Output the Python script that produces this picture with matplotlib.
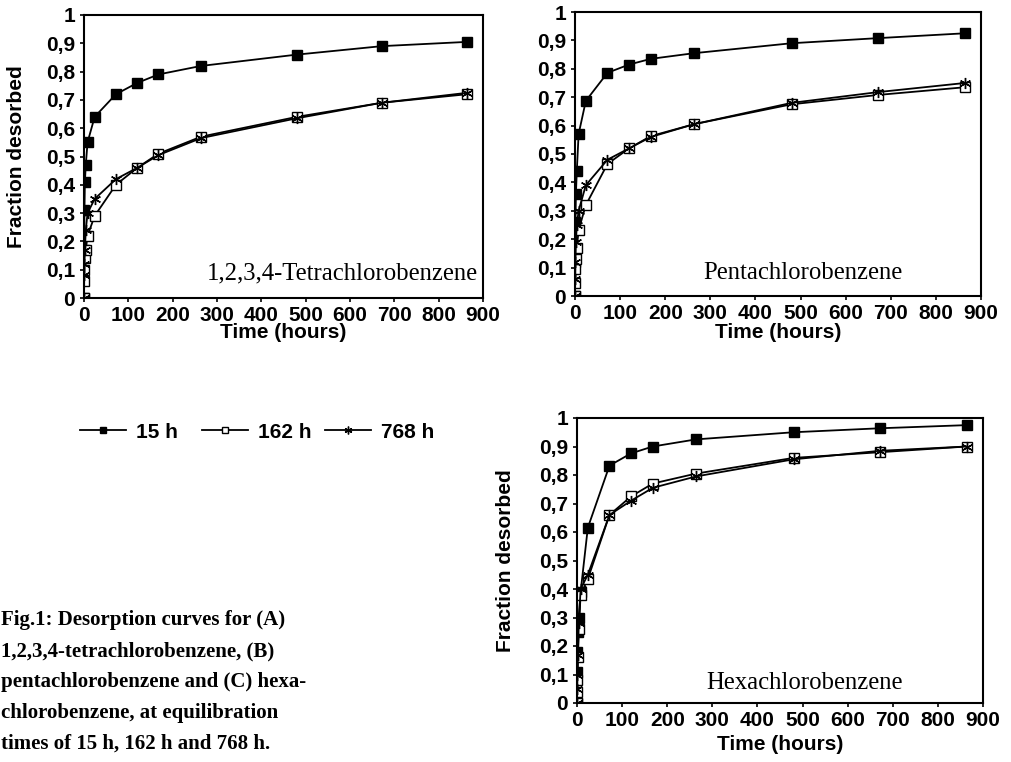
"""
    Desorption curves of three chlorobenzenes at three equilibration times
"""
import matplotlib
matplotlib.use("Agg")
import matplotlib.pyplot as plt
from matplotlib.ticker import FuncFormatter

"""
    Data
"""
time_h = [0, 0.5, 1, 2, 4, 8, 24, 72, 120, 168, 264, 480, 672, 864]
series_labels = ["15 h", "162 h", "768 h"]

tetra_15 = [0, 0.17, 0.31, 0.41, 0.47, 0.55, 0.64, 0.72, 0.76, 0.79, 0.82, 0.86, 0.89, 0.905]
tetra_162 = [0, 0.06, 0.10, 0.14, 0.17, 0.22, 0.29, 0.40, 0.46, 0.51, 0.57, 0.64, 0.69, 0.72]
tetra_768 = [0, 0.08, 0.12, 0.17, 0.24, 0.30, 0.35, 0.42, 0.46, 0.505, 0.565, 0.635, 0.69, 0.725]

penta_15 = [0, 0.12, 0.26, 0.36, 0.44, 0.57, 0.687, 0.786, 0.815, 0.835, 0.855, 0.89, 0.908, 0.925]
penta_162 = [0, 0.045, 0.094, 0.13, 0.168, 0.232, 0.32, 0.465, 0.52, 0.563, 0.605, 0.675, 0.708, 0.735]
penta_768 = [0, 0.06, 0.12, 0.19, 0.25, 0.30, 0.39, 0.48, 0.52, 0.56, 0.605, 0.68, 0.718, 0.75]

hexa_15 = [0, 0.11, 0.18, 0.25, 0.30, 0.39, 0.615, 0.833, 0.876, 0.90, 0.925, 0.95, 0.964, 0.975]
hexa_162 = [0, 0.04, 0.08, 0.16, 0.26, 0.38, 0.435, 0.66, 0.725, 0.77, 0.805, 0.86, 0.88, 0.90]
hexa_768 = [0, 0.05, 0.10, 0.17, 0.28, 0.40, 0.45, 0.66, 0.71, 0.755, 0.795, 0.855, 0.885, 0.90]

x_ticks = [0, 100, 200, 300, 400, 500, 600, 700, 800, 900]
y_ticks = [0, 0.1, 0.2, 0.3, 0.4, 0.5, 0.6, 0.7, 0.8, 0.9, 1]

caption_lines = [
    "Fig.1: Desorption curves for (A)",
    "1,2,3,4-tetrachlorobenzene, (B)",
    "pentachlorobenzene and (C) hexa-",
    "chlorobenzene, at equilibration",
    "times of 15 h, 162 h and 768 h.",
]

"""
    Styles
"""
SANS = "Liberation Sans"
SERIF = "Liberation Serif"
marker_styles = [
    dict(marker="s", markersize=6.5, markerfacecolor="black", markeredgecolor="black"),
    dict(marker="s", markersize=6.5, markerfacecolor="white", markeredgecolor="black", markeredgewidth=1.0),
    dict(marker=(6, 2, 0), markersize=8, markeredgecolor="black", markeredgewidth=1.0),
]

W, H = 1011, 762
fig = plt.figure(figsize=(W / 100, H / 100), dpi=100)


def px_axes(left, right, top, bottom):
    # axes rectangle given in pixel coordinates measured from the top-left corner
    return fig.add_axes([left / W, 1 - bottom / H, (right - left) / W, (bottom - top) / H])


def comma_fmt(v, pos):
    if abs(v) < 1e-9:
        return "0"
    if abs(v - 1) < 1e-9:
        return "1"
    return f"{v:.1f}".replace(".", ",")


def draw_panel(ax, series, name, name_xy, ylabel_x, xlabel_y):
    lines = []
    for values, style in zip(series, marker_styles):
        ln, = ax.plot(time_h, values, color="black", linewidth=1.3, **style)
        lines.append(ln)
    ax.set_xlim(0, 900)
    ax.set_ylim(0, 1)
    ax.set_xticks(x_ticks)
    ax.set_yticks(y_ticks)
    ax.yaxis.set_major_formatter(FuncFormatter(comma_fmt))
    ax.tick_params(direction="out", length=3, width=1.2, pad=2.5)
    ax.tick_params(axis="y", pad=3.5)
    for lab in ax.get_xticklabels() + ax.get_yticklabels():
        lab.set_fontfamily(SANS)
        lab.set_fontweight("bold")
        lab.set_fontsize(15)
    for sp in ax.spines.values():
        sp.set_linewidth(1.5)
    ax.set_xlabel("Time (hours)", fontfamily=SANS, fontweight="bold", fontsize=15)
    ax.xaxis.set_label_coords(0.5, xlabel_y)
    if ylabel_x is not None:
        ax.set_ylabel("Fraction desorbed", fontfamily=SANS, fontweight="bold", fontsize=15)
        ax.yaxis.set_label_coords(ylabel_x, 0.5)
    ax.text(name_xy[0], name_xy[1], name, transform=ax.transAxes, ha="right", va="center",
            fontfamily=SERIF, fontsize=17.8)
    return lines


ax_a = px_axes(84, 483, 15, 298)
ax_b = px_axes(575, 981, 12, 296)
ax_c = px_axes(577, 983, 418, 703)

handles = draw_panel(ax_a, [tetra_15, tetra_162, tetra_768], "1,2,3,4-Tetrachlorobenzene",
                     (0.987, 0.085), -0.145, -0.088)
draw_panel(ax_b, [penta_15, penta_162, penta_768], "Pentachlorobenzene",
           (0.808, 0.081), None, -0.095)
draw_panel(ax_c, [hexa_15, hexa_162, hexa_768], "Hexachlorobenzene",
           (0.803, 0.07), -0.153, -0.112)

# legend entries sit in one row, each placed on its own
legend_x = [80, 202, 325]
for h, lab, x in zip(handles, series_labels, legend_x):
    fig.legend([h], [lab], loc="center left", bbox_to_anchor=(x / W, 1 - 432 / H),
               frameon=False, borderpad=0, borderaxespad=0, handlelength=2.2,
               handletextpad=0.5, markerscale=0.7,
               prop={"family": SANS, "weight": "bold", "size": 15})

# figure caption, lower left
for i, line in enumerate(caption_lines):
    fig.text(1 / W, 1 - (620 + 31 * i) / H, line, ha="left", va="center",
             fontfamily=SERIF, fontweight="bold", fontsize=15)

fig.savefig("out.png", dpi=100)
